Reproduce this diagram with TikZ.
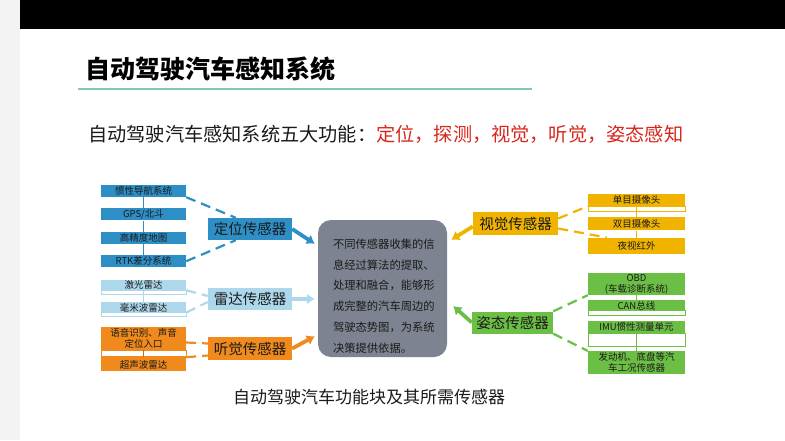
\documentclass[tikz,border=0pt]{standalone}
\usepackage{fontspec}
\setmainfont{Noto Sans CJK SC}
\usepackage{tikz}
\usepackage{xcolor}
\usetikzlibrary{positioning,calc,arrows.meta}
\definecolor{psPos}{HTML}{2E8FC7}
\definecolor{psRadar}{HTML}{ADD8EC}
\definecolor{psAudio}{HTML}{F08A1C}
\definecolor{psVision}{HTML}{F0B400}
\definecolor{psPose}{HTML}{6CBF45}
\definecolor{psCore}{HTML}{7D8390}
\definecolor{psRule}{HTML}{86C6B3}
\definecolor{psRed}{HTML}{D8261C}
\definecolor{psInk}{HTML}{1A1A1A}
\definecolor{psSide}{HTML}{F3F3F3}
\tikzset{
    psItemBase/.style={
        rectangle,
        inner sep=0pt,
        text=psInk,
        font=\fontsize{9.5}{11}\selectfont,
        align=center
    },
    psHubBase/.style={
        rectangle,
        inner sep=0pt,
        minimum height=22pt,
        text=psInk,
        font=\fontsize{14.5}{16}\selectfont
    },
    % Sensor groups
    posItem/.style={psItemBase, minimum width=85pt, fill=psPos},
    radarItem/.style={psItemBase, minimum width=85pt, fill=psRadar},
    audioItem/.style={psItemBase, minimum width=85pt, fill=psAudio},
    visionItem/.style={psItemBase, minimum width=97pt, fill=psVision},
    poseItem/.style={psItemBase, minimum width=97pt, fill=psPose},
    % Strips and links
    psStrip/.style={fill=white, draw=#1, line width=0.6pt},
    psStack/.style={draw=#1, line width=0.8pt},
    psDash/.style={draw=#1, line width=2.2pt, dash pattern=on 10pt off 6pt},
    psFeed/.style={-{Latex[length=8pt,width=11pt]}, line width=3.8pt, draw=#1}
}
\begin{document}
\begin{tikzpicture}[
    x=1pt, y=-1pt,
    hubBox/.style={psHubBase, minimum width=84pt},
    noteBox/.style={rectangle, rounded corners=13pt, fill=psCore, minimum width=129pt, minimum height=137pt},
    plainText/.style={inner sep=0pt, text=psInk}
]
    \useasboundingbox (0,0) rectangle (785,440);
    \fill[psSide] (0,0) rectangle (20,440);
    \fill[black] (20,0) rectangle (785,29);

    % Heading
    \node[plainText, anchor=west, text=black, font=\fontsize{25}{28}\selectfont\bfseries] (title) at (85,69) {自动驾驶汽车感知系统};
    \draw[psRule, line width=1.5pt] (78,89) -- (532,89);
    \node[plainText, anchor=west, font=\fontsize{19.2}{22}\selectfont] (subtitle) at (88,134) {自动驾驶汽车感知系统五大功能：\textcolor{psRed}{定位，探测，视觉，听觉，姿态感知}};

    % Centre
    \node[noteBox] (ctr) at (382.5,288.5) {};
    \node[plainText, align=left, text width=103pt, font=\fontsize{11.3}{20.7}\selectfont] (ctrNote) at (384.5,296) {不同传感器收集的信\\息经过算法的提取、\\处理和融合，能够形\\成完整的汽车周边的\\驾驶态势图，为系统\\决策提供依据。};

    % Left column
    \node[posItem, minimum height=12pt] (ins) at (143.5,191) {惯性导航系统};
    \node[posItem, minimum height=12pt, below=11pt of ins] (gps) {GPS/北斗};
    \node[posItem, minimum height=12pt, below=11pt of gps] (hdmap) {高精度地图};
    \node[posItem, minimum height=12pt, below=11pt of hdmap] (rtk) {RTK差分系统};
    \node[radarItem, minimum height=10pt] (lidar) at (143.5,285) {激光雷达};
    \node[radarItem, minimum height=10pt, below=12pt of lidar] (mmw) {毫米波雷达};
    \node[audioItem, minimum height=23pt] (voice) at (143.5,338.5) {语音识别、声音\\定位入口};
    \node[audioItem, minimum height=14pt, below=7pt of voice] (ultra) {超声波雷达};

    \draw[psStrip=psRadar] (lidar.south west) rectangle ([yshift=-4pt]lidar.south east);
    \draw[psStrip=psRadar] (mmw.south west) rectangle ([yshift=-4pt]mmw.south east);
    \draw[psStrip=psAudio] (voice.south west) rectangle ([yshift=-6pt]voice.south east);

    \draw[psStack=psPos] (ins) -- (gps) (gps) -- (hdmap) (hdmap) -- (rtk);
    \draw[psStack=psRadar] (lidar) -- (mmw);
    \draw[psStack=psAudio!80!black] (voice) -- (ultra);

    \node[hubBox, fill=psPos] (pos) at (250,229) {定位传感器};
    \node[hubBox, fill=psRadar] (radar) at (250,299) {雷达传感器};
    \node[hubBox, fill=psAudio, minimum height=23pt] (audio) at (250,348.5) {听觉传感器};

    \draw[psDash=psPos] (ins.south east) -- ([xshift=28pt]pos.north west);
    \draw[psDash=psPos] (rtk.east) -- ([xshift=28pt]pos.south west);
    \draw[psDash=psRadar] (lidar.south east) -- ([yshift=3pt]radar.west);
    \draw[psDash=psRadar] (mmw.south east) -- ([yshift=-3pt]radar.west);
    \draw[psDash=psAudio] ([yshift=-4pt]voice.east) -- ([yshift=5pt]audio.west);
    \draw[psDash=psAudio] (ultra.north east) -- ([yshift=-7pt]audio.west);

    % Right column
    \node[visionItem, minimum height=12pt] (mono) at (636.5,200) {单目摄像头};
    \node[visionItem, minimum height=13pt, below=11pt of mono] (stereo) {双目摄像头};
    \node[visionItem, minimum height=16pt, below=7pt of stereo] (night) {夜视红外};
    \node[poseItem, minimum height=22pt] (obd) at (636.5,284) {OBD\\(车载诊断系统)};
    \node[poseItem, minimum height=10pt, below=5pt of obd] (can) {CAN总线};
    \node[poseItem, minimum height=12pt, below=10pt of can] (imu) {IMU惯性测量单元};
    \node[poseItem, minimum height=23pt, below=18pt of imu] (engine) {发动机、底盘等汽\\车工况传感器};

    \draw[psStrip=psVision] (mono.south west) rectangle ([yshift=-5pt]mono.south east);
    \draw[psStrip=psPose] (can.south west) rectangle ([yshift=-5pt]can.south east);
    \draw[psStrip=psPose] (imu.south west) rectangle ([yshift=-13pt]imu.south east);

    \draw[psStack=psVision] (mono) -- (stereo) (stereo) -- (night);
    \draw[psStack=psPose] (obd) -- (can) (imu) -- (engine);

    \node[hubBox, fill=psVision, minimum width=85pt, minimum height=23pt] (vision) at (515.5,223.5) {视觉传感器};
    \node[hubBox, fill=psPose, minimum width=81pt] (pose) at (512.5,322.5) {姿态传感器};

    \draw[psDash=psVision] ([yshift=5pt]vision.east) -- (mono.south west);
    \draw[psDash=psVision] ([yshift=-5pt]vision.east) -- ([xshift=19pt]night.north west);
    \draw[psDash=psPose] (pose.north east) -- (obd.south west);
    \draw[psDash=psPose] (pose.south east) -- (engine.north west);

    % Feeds into the centre
    \draw[psFeed=psPos] (pos.east) -- ($(ctr.north west)+(-3,24)$);
    \draw[psFeed=psRadar] (radar.east) -- ($(ctr.west)+(-3,10.5)$);
    \draw[psFeed=psAudio] (audio.east) -- ($(ctr.south west)+(-3,-21)$);
    \draw[psFeed=psVision] ([yshift=-3pt]vision.west) -- ($(ctr.north east)+(4,20)$);
    \draw[psFeed=psPose] (pose.west) -- ($(ctr.east)+(6,17.5)$);

    \node[plainText, font=\fontsize{17}{20}\selectfont] (caption) at (369,397) {自动驾驶汽车功能块及其所需传感器};
\end{tikzpicture}
\end{document}
